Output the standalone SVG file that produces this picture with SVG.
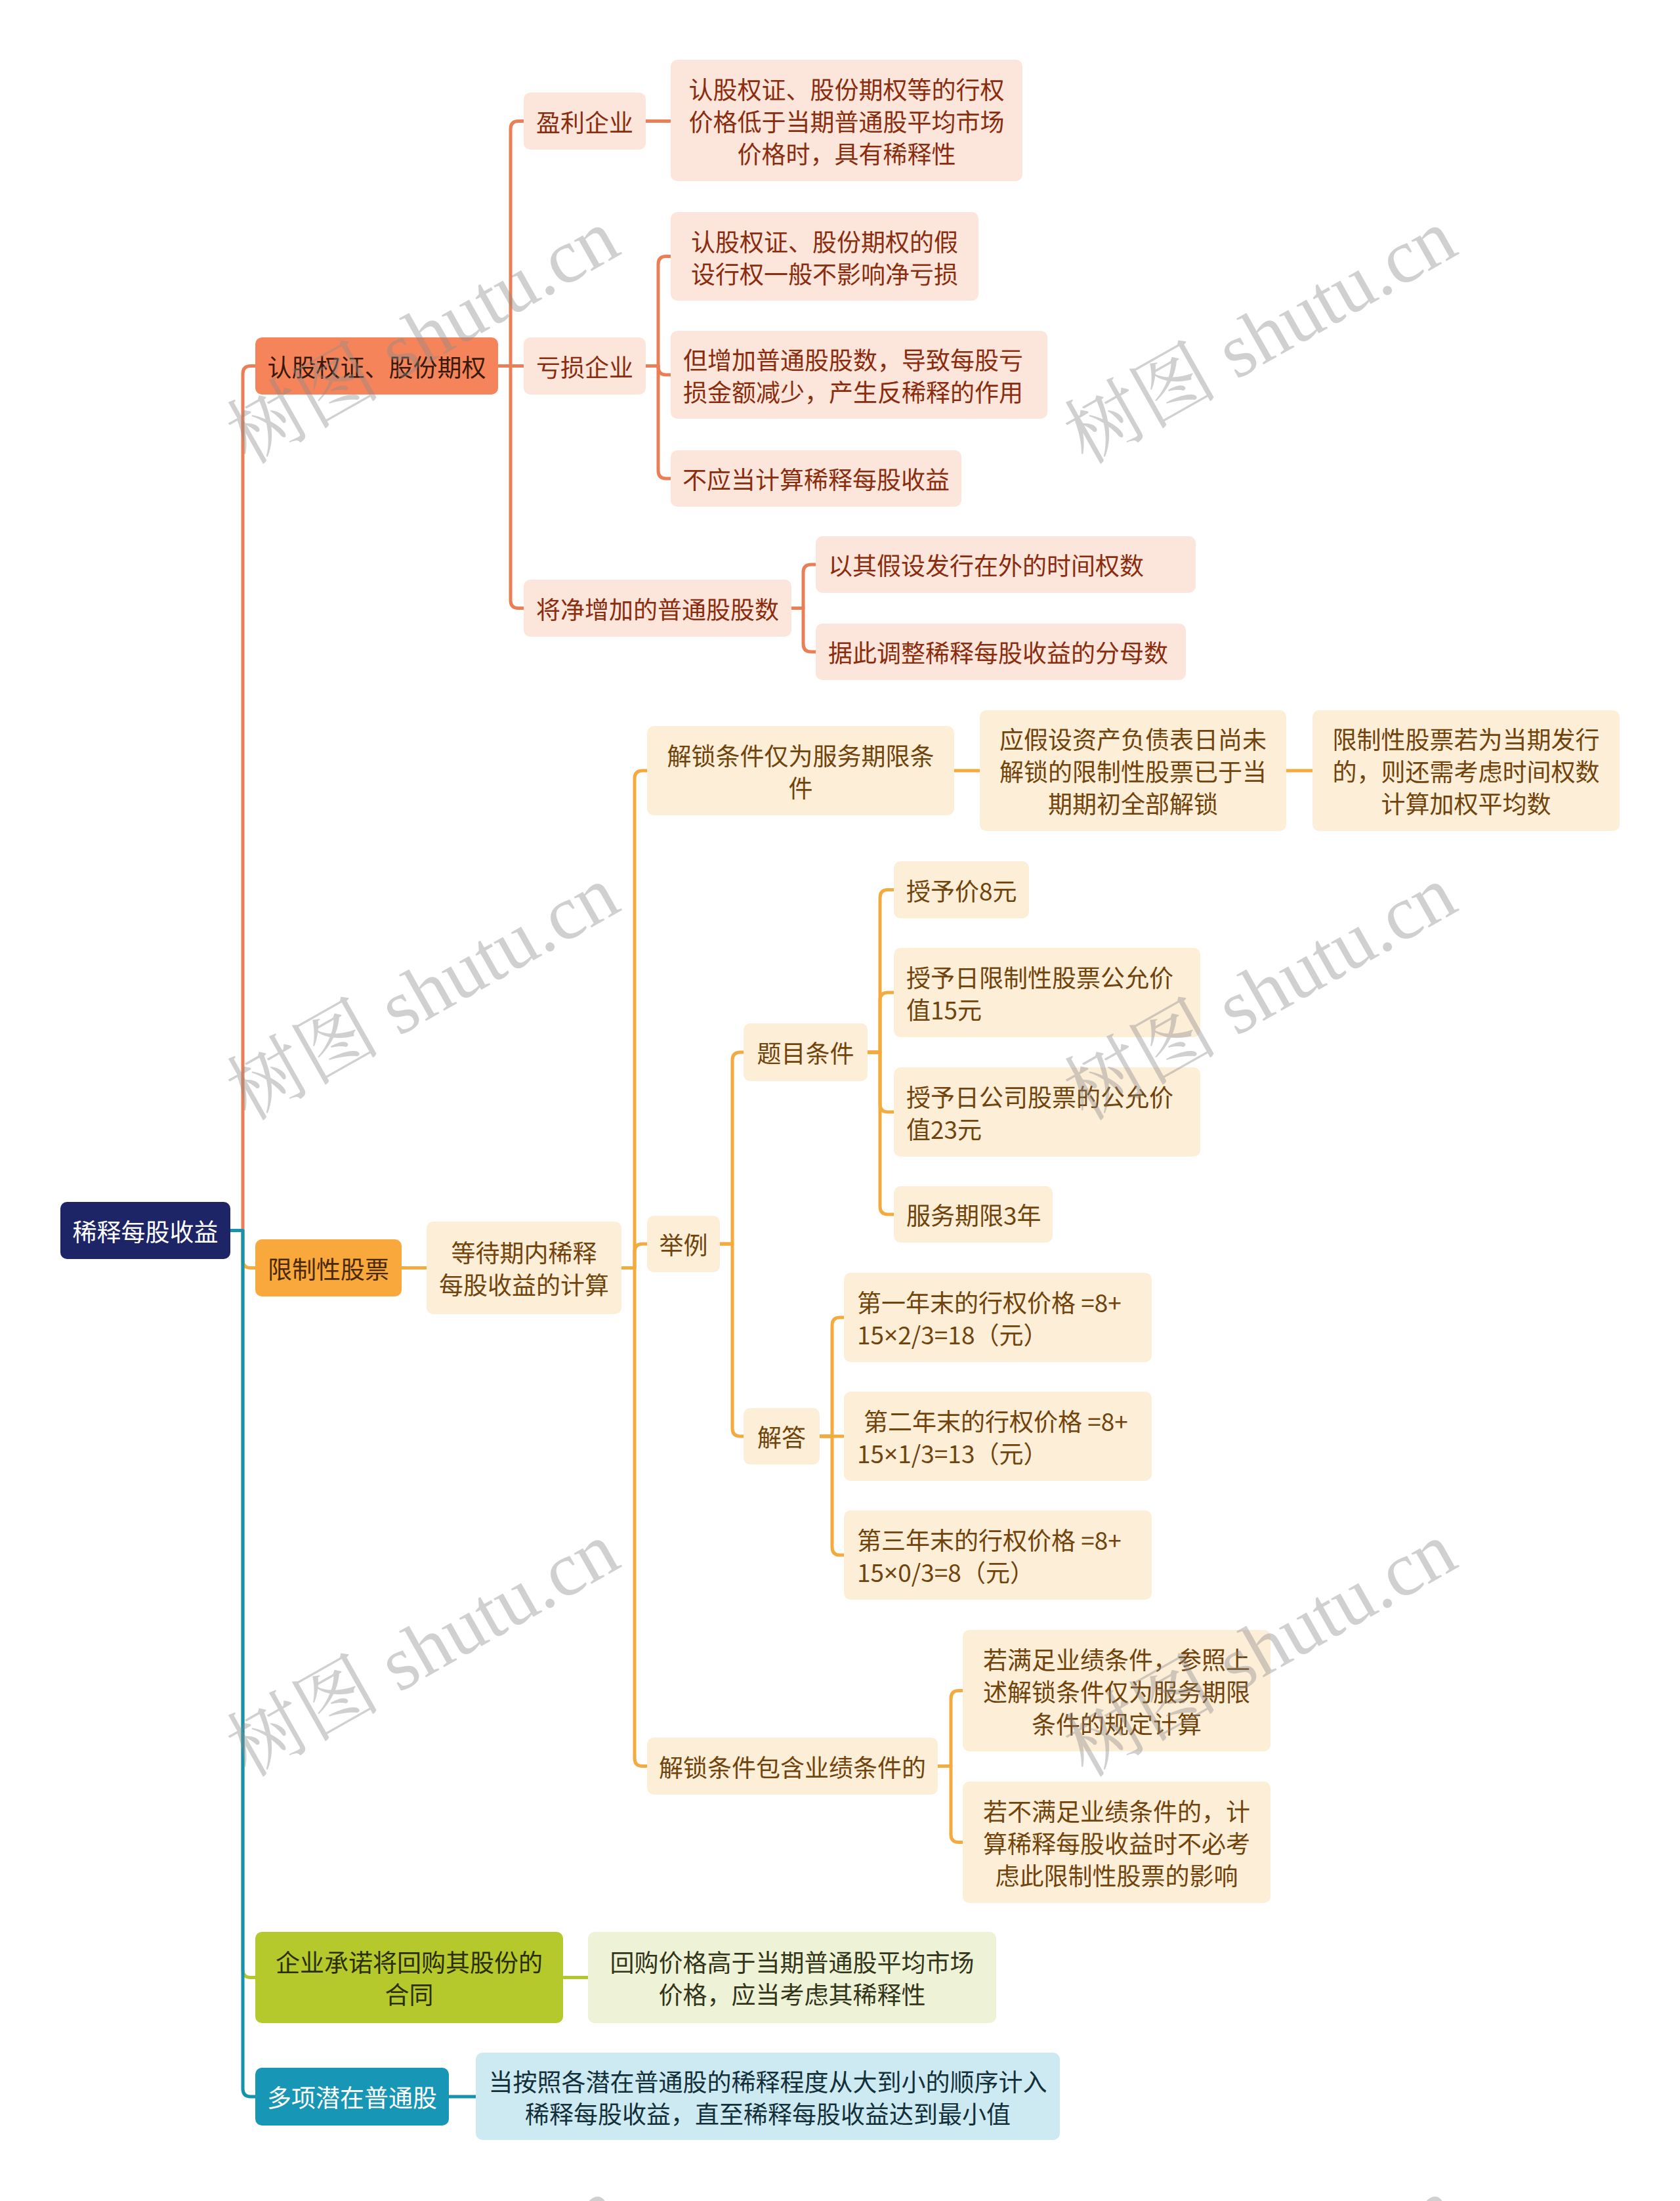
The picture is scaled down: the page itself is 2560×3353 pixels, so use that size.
<svg xmlns="http://www.w3.org/2000/svg" width="2560" height="3353" viewBox="0 0 2560 3353">
<style>
text{font-family:"Noto Sans CJK SC","Noto Sans",sans-serif;font-size:37px;dominant-baseline:central;text-anchor:middle}
text.l{text-anchor:start}
tspan.x{font-family:"Noto Sans",sans-serif}
.cn{fill:none;stroke-width:5;stroke-linejoin:round;stroke-linecap:round}
.k1{stroke:#EA7F57}.k2{stroke:#F3AA3E}.k3{stroke:#B4C62C}.k4{stroke:#1592B0}
.root rect{fill:#1E2566}.root text{fill:#FFFFFF}
.b1 rect{fill:#F5845A}.b1 text{fill:#3A1A0C}
.s1 rect{fill:#FCE5DB}.s1 text{fill:#8A2D0F}
.b2 rect{fill:#F9A83B}.b2 text{fill:#4A2A06}
.s2 rect{fill:#FDEED8}.s2 text{fill:#70440C}
.b3 rect{fill:#B5C82C}.b3 text{fill:#2A2F06}
.s3 rect{fill:#EEF3D7}.s3 text{fill:#33351A}
.b4 rect{fill:#1896B5}.b4 text{fill:#FFFFFF}
.s4 rect{fill:#CDEAF2}.s4 text{fill:#13303A}
.wm text{font-family:"Liberation Serif","Noto Serif CJK SC","Noto Sans CJK SC",serif;font-size:117px;fill:#8C8C8C;opacity:0.4;dominant-baseline:alphabetic}
</style>
<rect width="2560" height="3353" fill="#FFFFFF"/>
<g id="connectors">
<path class="cn k1" d="M351,1874.5 H370 V569.5 Q370,557.5 382,557.5 H389"/>
<path class="cn k2" d="M351,1874.5 H370 V1919.5 Q370,1931.5 382,1931.5 H389"/>
<path class="cn k3" d="M351,1874.5 H370 V3000.5 Q370,3012.5 382,3012.5 H389"/>
<path class="cn k4" d="M351,1874.5 H370 V3182 Q370,3194 382,3194 H389"/>
<path class="cn k1" d="M759,557.5 H778 V196.5 Q778,184.5 790,184.5 H798"/>
<path class="cn k1" d="M759,557.5 H798"/>
<path class="cn k1" d="M759,557.5 H778 V914.5 Q778,926.5 790,926.5 H798"/>
<path class="cn k1" d="M984,184.5 H1022"/>
<path class="cn k1" d="M984,557.5 H1003 V402.5 Q1003,390.5 1015,390.5 H1022"/>
<path class="cn k1" d="M984,557.5 H1003 V559 Q1003,571 1015,571 H1022"/>
<path class="cn k1" d="M984,557.5 H1003 V717 Q1003,729 1015,729 H1022"/>
<path class="cn k1" d="M1206,926.5 H1224 V872 Q1224,860 1236,860 H1243"/>
<path class="cn k1" d="M1206,926.5 H1224 V981 Q1224,993 1236,993 H1243"/>
<path class="cn k2" d="M612,1931.5 H650"/>
<path class="cn k2" d="M947,1931.5 H967 V1186 Q967,1174 979,1174 H986"/>
<path class="cn k2" d="M947,1931.5 H967 V1907 Q967,1895 979,1895 H986"/>
<path class="cn k2" d="M947,1931.5 H967 V2678.5 Q967,2690.5 979,2690.5 H986"/>
<path class="cn k2" d="M1454,1174 H1493"/>
<path class="cn k2" d="M1960,1174 H2000"/>
<path class="cn k2" d="M1097,1895 H1116 V1615 Q1116,1603 1128,1603 H1133"/>
<path class="cn k2" d="M1097,1895 H1116 V2176 Q1116,2188 1128,2188 H1133"/>
<path class="cn k2" d="M1322,1603 H1341 V1367.5 Q1341,1355.5 1353,1355.5 H1362"/>
<path class="cn k2" d="M1322,1603 H1341 V1524 Q1341,1512 1353,1512 H1362"/>
<path class="cn k2" d="M1322,1603 H1341 V1682 Q1341,1694 1353,1694 H1362"/>
<path class="cn k2" d="M1322,1603 H1341 V1838 Q1341,1850 1353,1850 H1362"/>
<path class="cn k2" d="M1249,2188 H1268 V2019 Q1268,2007 1280,2007 H1286"/>
<path class="cn k2" d="M1249,2188 H1286"/>
<path class="cn k2" d="M1249,2188 H1268 V2357 Q1268,2369 1280,2369 H1286"/>
<path class="cn k2" d="M1429,2690.5 H1449 V2587.5 Q1449,2575.5 1461,2575.5 H1467"/>
<path class="cn k2" d="M1429,2690.5 H1449 V2794.5 Q1449,2806.5 1461,2806.5 H1467"/>
<path class="cn k3" d="M858,3012.5 H896"/>
<path class="cn k4" d="M684,3194 H725"/>
</g>
<g id="root" class="root"><rect x="92" y="1831" width="259" height="87" rx="10"/><text x="221.5" y="1874.5">稀释每股收益</text></g>
<g id="n-rgqz" class="b1"><rect x="389" y="514" width="370" height="87" rx="10"/><text x="574" y="557.5">认股权证、股份期权</text></g>
<g id="n-ylqy" class="s1"><rect x="798" y="141" width="186" height="87" rx="10"/><text x="891" y="184.5">盈利企业</text></g>
<g id="n-ylqy-1" class="s1"><rect x="1022" y="91" width="536" height="185" rx="10"/><text x="1290" y="135">认股权证、股份期权等的行权</text><text x="1290" y="184">价格低于当期普通股平均市场</text><text x="1290" y="233">价格时，具有稀释性</text></g>
<g id="n-ksqy" class="s1"><rect x="798" y="514" width="186" height="87" rx="10"/><text x="891" y="557.5">亏损企业</text></g>
<g id="n-ksqy-1" class="s1"><rect x="1022" y="323" width="469" height="135" rx="10"/><text x="1256.5" y="367">认股权证、股份期权的假</text><text x="1256.5" y="416">设行权一般不影响净亏损</text></g>
<g id="n-ksqy-2" class="s1"><rect x="1022" y="504" width="574" height="134" rx="10"/><text class="l" x="1041" y="546.5">但增加普通股股数，导致每股亏</text><text class="l" x="1041" y="595.5">损金额减少，产生反稀释的作用</text></g>
<g id="n-ksqy-3" class="s1"><rect x="1022" y="686" width="443" height="86" rx="10"/><text x="1243.5" y="729">不应当计算稀释每股收益</text></g>
<g id="n-jzj" class="s1"><rect x="798" y="883" width="408" height="87" rx="10"/><text x="1002" y="926.5">将净增加的普通股股数</text></g>
<g id="n-jzj-1" class="s1"><rect x="1243" y="817" width="579" height="86" rx="10"/><text class="l" x="1262" y="860">以其假设发行在外的时间权数</text></g>
<g id="n-jzj-2" class="s1"><rect x="1243" y="950" width="564" height="86" rx="10"/><text class="l" x="1262" y="993">据此调整稀释每股收益的分母数</text></g>
<g id="n-xzxgp" class="b2"><rect x="389" y="1888" width="223" height="87" rx="10"/><text x="500.5" y="1931.5">限制性股票</text></g>
<g id="n-ddq" class="s2"><rect x="650" y="1861" width="297" height="141" rx="10"/><text x="798.5" y="1907">等待期内稀释</text><text x="798.5" y="1956">每股收益的计算</text></g>
<g id="n-jstj1" class="s2"><rect x="986" y="1106" width="468" height="136" rx="10"/><text x="1220" y="1149.5">解锁条件仅为服务期限条</text><text x="1220" y="1198.5">件</text></g>
<g id="n-yjs" class="s2"><rect x="1493" y="1082" width="467" height="184" rx="10"/><text x="1726.5" y="1125">应假设资产负债表日尚未</text><text x="1726.5" y="1174">解锁的限制性股票已于当</text><text x="1726.5" y="1223">期期初全部解锁</text></g>
<g id="n-xzx2" class="s2"><rect x="2000" y="1082" width="468" height="184" rx="10"/><text x="2234" y="1125">限制性股票若为当期发行</text><text x="2234" y="1174">的，则还需考虑时间权数</text><text x="2234" y="1223">计算加权平均数</text></g>
<g id="n-jl" class="s2"><rect x="986" y="1852" width="111" height="86" rx="10"/><text x="1041.5" y="1895">举例</text></g>
<g id="n-tmtj" class="s2"><rect x="1133" y="1559" width="189" height="88" rx="10"/><text x="1227.5" y="1603">题目条件</text></g>
<g id="n-t1" class="s2"><rect x="1362" y="1312" width="206" height="87" rx="10"/><text class="l" x="1381" y="1355.5">授予价8元</text></g>
<g id="n-t2" class="s2"><rect x="1362" y="1444" width="467" height="136" rx="10"/><text class="l" x="1381" y="1487.5">授予日限制性股票公允价</text><text class="l" x="1381" y="1536.5">值15元</text></g>
<g id="n-t3" class="s2"><rect x="1362" y="1626" width="467" height="136" rx="10"/><text class="l" x="1381" y="1669.5">授予日公司股票的公允价</text><text class="l" x="1381" y="1718.5">值23元</text></g>
<g id="n-t4" class="s2"><rect x="1362" y="1807" width="242" height="86" rx="10"/><text class="l" x="1381" y="1850">服务期限3年</text></g>
<g id="n-jd" class="s2"><rect x="1133" y="2145" width="116" height="86" rx="10"/><text x="1191" y="2188">解答</text></g>
<g id="n-a1" class="s2"><rect x="1286" y="1939" width="469" height="136" rx="10"/><text class="l" x="1306" y="1982.5">第一年末的行权价格 =8+</text><text class="l" x="1306" y="2031.5">15<tspan class="x">×</tspan>2/3=18（元）</text></g>
<g id="n-a2" class="s2"><rect x="1286" y="2120" width="469" height="136" rx="10"/><text class="l" x="1316" y="2163.5">第二年末的行权价格 =8+</text><text class="l" x="1306" y="2212.5">15<tspan class="x">×</tspan>1/3=13（元）</text></g>
<g id="n-a3" class="s2"><rect x="1286" y="2301" width="469" height="136" rx="10"/><text class="l" x="1306" y="2344.5">第三年末的行权价格 =8+</text><text class="l" x="1306" y="2393.5">15<tspan class="x">×</tspan>0/3=8（元）</text></g>
<g id="n-jstj2" class="s2"><rect x="986" y="2647" width="443" height="87" rx="10"/><text x="1207.5" y="2690.5">解锁条件包含业绩条件的</text></g>
<g id="n-rmz" class="s2"><rect x="1467" y="2483" width="469" height="185" rx="10"/><text x="1701.5" y="2526.5">若满足业绩条件，参照上</text><text x="1701.5" y="2575.5">述解锁条件仅为服务期限</text><text x="1701.5" y="2624.5">条件的规定计算</text></g>
<g id="n-rbmz" class="s2"><rect x="1467" y="2714" width="469" height="185" rx="10"/><text x="1701.5" y="2757.5">若不满足业绩条件的，计</text><text x="1701.5" y="2806.5">算稀释每股收益时不必考</text><text x="1701.5" y="2855.5">虑此限制性股票的影响</text></g>
<g id="n-qycn" class="b3"><rect x="389" y="2943" width="469" height="139" rx="10"/><text x="623.5" y="2988">企业承诺将回购其股份的</text><text x="623.5" y="3037">合同</text></g>
<g id="n-hgjg" class="s3"><rect x="896" y="2943" width="622" height="139" rx="10"/><text x="1207" y="2988">回购价格高于当期普通股平均市场</text><text x="1207" y="3037">价格，应当考虑其稀释性</text></g>
<g id="n-dxqz" class="b4"><rect x="389" y="3150" width="295" height="88" rx="10"/><text x="536.5" y="3194">多项潜在普通股</text></g>
<g id="n-dazh" class="s4"><rect x="725" y="3127" width="890" height="133" rx="10"/><text x="1170" y="3169.5">当按照各潜在普通股的稀释程度从大到小的顺序计入</text><text x="1170" y="3218.5">稀释每股收益，直至稀释每股收益达到最小值</text></g>
<g id="watermark" class="wm">
<text transform="rotate(-29.5 664 547)" x="664" y="547">树图 shutu.cn</text>
<text transform="rotate(-29.5 1940 547)" x="1940" y="547">树图 shutu.cn</text>
<text transform="rotate(-29.5 664 1547)" x="664" y="1547">树图 shutu.cn</text>
<text transform="rotate(-29.5 1940 1547)" x="1940" y="1547">树图 shutu.cn</text>
<text transform="rotate(-29.5 664 2547)" x="664" y="2547">树图 shutu.cn</text>
<text transform="rotate(-29.5 1940 2547)" x="1940" y="2547">树图 shutu.cn</text>
<text transform="rotate(-29.5 664 3547)" x="664" y="3547">树图 shutu.cn</text>
<text transform="rotate(-29.5 1940 3547)" x="1940" y="3547">树图 shutu.cn</text>
</g>
</svg>
